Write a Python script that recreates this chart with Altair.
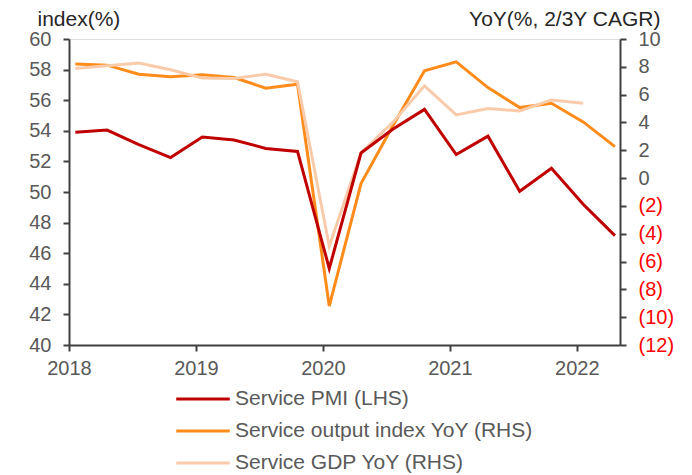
import altair as alt
import pandas as pd

# quarterly points, 2018Q1 .. 2022Q2
quarters = [2018.05 + 0.25 * i for i in range(18)]

pmi = [53.9, 54.05, 53.1, 52.25, 53.6, 53.4, 52.85, 52.65, 45.0, 52.55,
       54.1, 55.4, 52.45, 53.65, 50.05, 51.55, 49.2, 47.15]
output_yoy = [8.2, 8.12, 7.47, 7.28, 7.43, 7.23, 6.46, 6.75, -9.2, -0.39,
              3.75, 7.72, 8.36, 6.51, 5.07, 5.38, 4.04, 2.26]
gdp_yoy = [7.88, 8.08, 8.27, 7.79, 7.19, 7.16, 7.47, 6.92, -4.9, 1.82,
           4.0, 6.63, 4.54, 5.0, 4.83, 5.62, 5.38]

series_names = ["Service PMI (LHS)", "Service output index YoY (RHS)", "Service GDP YoY (RHS)"]
series_colors = ["#C00000", "#FF8C1A", "#F9CBAA"]
year_ticks = [2018, 2019, 2020, 2021, 2022]
left_ticks = list(range(40, 61, 2))
right_ticks = list(range(-12, 11, 2))

left_df = pd.DataFrame({"t": quarters, "v": pmi, "s": series_names[0]})
right_df = pd.concat([
    pd.DataFrame({"t": quarters, "v": output_yoy, "s": series_names[1]}),
    pd.DataFrame({"t": quarters[:len(gdp_yoy)], "v": gdp_yoy, "s": series_names[2]}),
])

FONT = "Liberation Sans"
GREY = "#595959"
AX = "#404040"

x_enc = alt.X("t:Q", scale=alt.Scale(domain=[2018, 2022.34], nice=False, zero=False),
              axis=alt.Axis(values=year_ticks, format="d", title=None, grid=False,
                            labelFontSize=20, labelColor=GREY, labelFont=FONT,
                            domainColor=AX, domainWidth=2, tickColor=AX, tickWidth=2,
                            tickSize=6, labelPadding=7, labelFlush=False))

color_enc = alt.Color("s:N", scale=alt.Scale(domain=series_names, range=series_colors),
                      legend=alt.Legend(title=None, orient="none", legendX=122, legendY=348,
                                        direction="vertical",
                                        symbolType="M-2.55,0H2.55", symbolSize=441,
                                        symbolStrokeWidth=3, symbolFillColor="transparent",
                                        labelFontSize=21, labelColor=GREY, labelFont=FONT,
                                        labelOffset=20, rowPadding=10, padding=0,
                                        labelLimit=500))

left = alt.Chart(left_df).mark_line(strokeWidth=3).encode(
    x=x_enc,
    y=alt.Y("v:Q", scale=alt.Scale(domain=[40, 60], nice=False, zero=False),
            axis=alt.Axis(values=left_ticks, title="index(%)", titleAngle=0,
                          titleAlign="left", titleBaseline="alphabetic",
                          titleX=-32, titleY=-14, titleFontSize=21, titleFontWeight="normal",
                          titleColor="#262626", titleFont=FONT,
                          grid=False, labelFontSize=20, labelColor=GREY, labelFont=FONT,
                          domainColor=AX, domainWidth=2, tickColor=AX, tickWidth=2,
                          tickSize=6, labelPadding=12)),
    color=color_enc,
    order=alt.Order("t:Q"),
)

right = alt.Chart(right_df).mark_line(strokeWidth=3).encode(
    x=x_enc,
    y=alt.Y("v:Q", scale=alt.Scale(domain=[-12, 10], nice=False, zero=False),
            axis=alt.Axis(orient="right", values=right_ticks,
                          labelExpr="datum.value < 0 ? '(' + abs(datum.value) + ')' : datum.value",
                          labelColor={"condition": {"test": "datum.value < 0", "value": "#FF0000"},
                                      "value": GREY},
                          title="YoY(%, 2/3Y CAGR)", titleAngle=0,
                          titleAlign="right", titleBaseline="alphabetic",
                          titleX=40, titleY=-14, titleFontSize=21, titleFontWeight="normal",
                          titleColor="#262626", titleFont=FONT,
                          grid=False, labelFontSize=20, labelFont=FONT,
                          domainColor=AX, domainWidth=2, tickColor=AX, tickWidth=2,
                          tickSize=6, labelPadding=12)),
    color=color_enc,
    order=alt.Order("t:Q"),
)

chart = alt.layer(right, left).resolve_scale(y="independent").properties(
    width=551, height=306,
    autosize=alt.AutoSizeParams(type="none"),
    padding={"left": 61, "top": 31, "right": 60, "bottom": 130},
).configure_view(stroke=None).configure(font=FONT)

chart.save("out.html", embed_options={"renderer": "svg", "actions": False})
